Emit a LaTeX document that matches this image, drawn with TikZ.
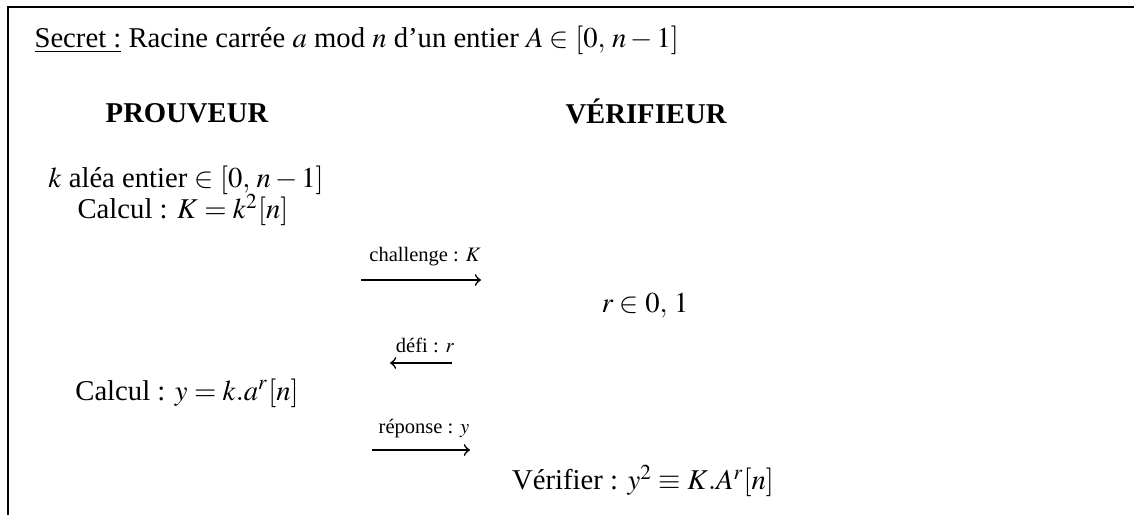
\documentclass[tikz,border=0pt]{standalone}
\usepackage{amsmath}
\usepackage{mathptmx}
\usepackage{fontspec}
\setmainfont{Liberation Serif}
\usetikzlibrary{arrows,positioning}

\begin{document}
\begin{tikzpicture}[
    x=0.0125cm, y=-0.0125cm,
    txt/.style={inner sep=0pt, font=\fontsize{10.2}{12}\selectfont},
    head/.style={inner sep=0pt, font=\fontsize{10.2}{12}\selectfont\bfseries},
    lbl/.style={inner sep=0pt, font=\fontsize{7.3}{8}\selectfont},
    arrow/.style={->, line width=0.6pt},
    frame/.style={line width=0.6pt}
]
    \useasboundingbox (0,0) rectangle (1134,515);

    % Cadre
    \coordinate (fbl) at (8,515);
    \coordinate (ftl) at (8,7);
    \coordinate (ftr) at (1134,7);
    \draw[frame] (fbl) -- (ftl) -- (ftr);

    % Secret
    \node[txt, anchor=west] (secret) at (34,40)
        {\underline{Secret :} Racine carrée $a$ mod $n$ d’un entier $A \in [0,\, n - 1]$};

    % Titres
    \node[head] (prouv) at (187,113) {PROUVEUR};
    \node[head] (verif) at (646,111) {VÉRIFIEUR};

    % Prouveur
    \node[txt] (alea) at (186,180) {$k$ aléa entier $\in [0,\, n-1]$};
    \node[txt] (calcK) at (183,210) {Calcul : $K = k^2[n]$};
    \node[txt] (calcy) at (187,393) {Calcul : $y = k.a^r[n]$};

    % Verifieur
    \node[txt] (choix) at (645,306) {$r \in 0,\, 1$};
    \node[txt] (check) at (643,481) {Vérifier : $y^2 \equiv K.A^r[n]$};

    % Messages
    \coordinate (m1a) at (361,280);
    \coordinate (m1b) at (481,280);
    \coordinate (m2a) at (452,363);
    \coordinate (m2b) at (390,363);
    \coordinate (m3a) at (372,450);
    \coordinate (m3b) at (470,450);

    \node[lbl] (chal) at (425,257) {challenge : $K$};
    \node[lbl] (defi) at (425,345) {défi : $r$};
    \node[lbl] (repo) at (424,429) {réponse : $y$};

    \draw[arrow] (m1a) -- (m1b);
    \draw[arrow] (m2a) -- (m2b);
    \draw[arrow] (m3a) -- (m3b);
\end{tikzpicture}
\end{document}
